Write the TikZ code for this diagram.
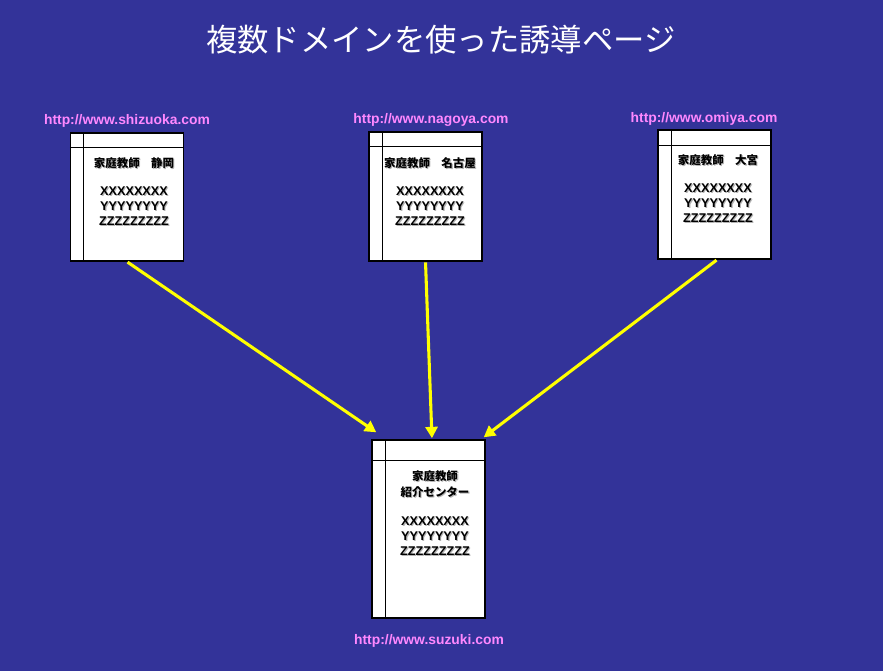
\documentclass[tikz,border=0pt]{standalone}
\usepackage{fontspec}
\usepackage{tikz}
\usetikzlibrary{positioning,arrows.meta}
\setsansfont{Liberation Sans}
\newfontfamily\jpfont{Noto Sans CJK JP}
\definecolor{slidebg}{RGB}{51,51,153}
\definecolor{urlpink}{RGB}{255,136,255}
\definecolor{arrowyellow}{RGB}{255,255,0}
% grey drop shadow behind a piece of text
\newcommand{\shtext}[1]{\leavevmode\rlap{\kern0.8pt\raisebox{-0.8pt}{\color{black!30}#1}}#1}
\newcommand{\jptext}[1]{{\jpfont\fontsize{8.6}{10}\selectfont\shtext{#1}}}
\tikzset{
  page/.style={draw=black,fill=white,line width=1.1pt,minimum width=84.75pt,minimum height=#1,inner sep=0pt,
    path picture={
      \draw[line width=0.9pt] ([xshift=9.9pt]path picture bounding box.north west) -- ([xshift=9.9pt]path picture bounding box.south west);
    }},
  pagetext/.style={anchor=north,align=center,font=\sffamily\bfseries\fontsize{9.5}{11.25}\selectfont},
  url/.style={text=urlpink,font=\sffamily\bfseries\fontsize{10.4}{12}\selectfont},
  guide/.style={-{Triangle[length=8.5pt,width=9pt]},draw=arrowyellow,line width=2.3pt,shorten <=0.5pt}
}
\begin{document}
\begin{tikzpicture}[x=0.75pt,y=-0.75pt]
\fill[slidebg] (0,0) rectangle (883,671);
\useasboundingbox (0,0) rectangle (883,671);
\node[text=white,font=\jpfont\fontsize{23.5}{26}\selectfont] (title) at (441,40) {複数ドメインを使った誘導ページ};

% three regional pages
\node[page=96pt] (shizuoka) at (127,197) {};
\draw[line width=0.9pt] ([yshift=-11.25pt]shizuoka.north west) -- ([yshift=-11.25pt]shizuoka.north east);
\node[url] (shizuokaurl) at (127,121) {http://www.shizuoka.com};
\node[pagetext] (shizuokatxt) at (134,153) {\jptext{家庭教師　静岡}\\[10pt]\shtext{XXXXXXXX}\\\shtext{YYYYYYYY}\\\shtext{ZZZZZZZZZ}};

\node[page=96.75pt] (nagoya) at (425.5,196.5) {};
\draw[line width=0.9pt] ([yshift=-11.6pt]nagoya.north west) -- ([yshift=-11.6pt]nagoya.north east);
\node[url] (nagoyaurl) at (431,120) {http://www.nagoya.com};
\node[pagetext] (nagoyatxt) at (430,153) {\jptext{家庭教師　名古屋}\\[10pt]\shtext{XXXXXXXX}\\\shtext{YYYYYYYY}\\\shtext{ZZZZZZZZZ}};

\node[page=96.75pt] (omiya) at (714.5,194.5) {};
\draw[line width=0.9pt] ([yshift=-12.4pt]omiya.north west) -- ([yshift=-12.4pt]omiya.north east);
\node[url] (omiyaurl) at (704,119) {http://www.omiya.com};
\node[pagetext] (omiyatxt) at (718,150) {\jptext{家庭教師　大宮}\\[10pt]\shtext{XXXXXXXX}\\\shtext{YYYYYYYY}\\\shtext{ZZZZZZZZZ}};

% the central page
\node[page=133.5pt] (suzuki) at (428.5,529) {};
\draw[line width=0.9pt] ([yshift=-16.2pt]suzuki.north west) -- ([yshift=-16.2pt]suzuki.north east);
\node[url] (suzukiurl) at (429,641) {http://www.suzuki.com};
\node[pagetext] (suzukitxt) at (435,466) {\jptext{家庭教師}\\[1pt]\jptext{紹介センター}\\[10pt]\shtext{XXXXXXXX}\\\shtext{YYYYYYYY}\\\shtext{ZZZZZZZZZ}};

\draw[guide] (shizuoka.south) -- ([xshift=3.75pt,yshift=5.25pt]suzuki.north west);
\draw[guide] (nagoya.south) -- ([xshift=2.6pt,yshift=0.8pt]suzuki.north);
\draw[guide] ([xshift=1.9pt]omiya.south) -- ([xshift=-1.5pt,yshift=1.5pt]suzuki.north east);
\end{tikzpicture}
\end{document}
